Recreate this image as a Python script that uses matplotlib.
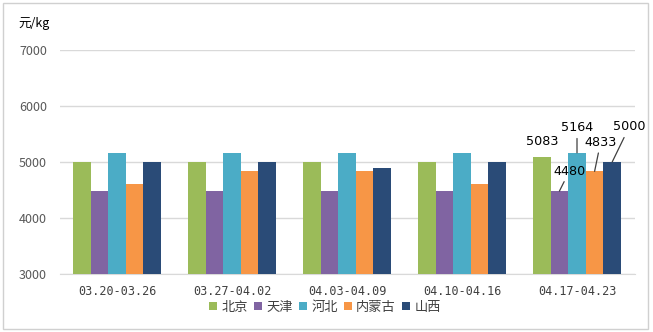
import matplotlib
matplotlib.use("Agg")
import matplotlib.pyplot as plt
from matplotlib.patches import Rectangle
import numpy as np

plt.rcParams['font.family'] = ['Noto Sans CJK SC', 'DejaVu Sans']

periods = ["03.20-03.26", "03.27-04.02", "04.03-04.09", "04.10-04.16", "04.17-04.23"]
regions = ["北京", "天津", "河北", "内蒙古", "山西"]
beijing = [5000, 5000, 5000, 5000, 5083]
tianjin = [4480, 4480, 4480, 4480, 4480]
hebei = [5164, 5164, 5164, 5164, 5164]
neimenggu = [4600, 4833, 4833, 4600, 4833]
shanxi = [5000, 5000, 4900, 5000, 5000]
series = [beijing, tianjin, hebei, neimenggu, shanxi]
colors = ["#9BBB59", "#8064A2", "#4BACC6", "#F79646", "#2A4B77"]

# offsets (pixels) of the value labels on the last period
label_offsets = [(0, 16), (10, 20), (0, 25), (6, 29), (17, 35)]

fig = plt.figure(figsize=(6.53, 3.32), dpi=100)
ax = fig.add_axes([59.5 / 653, 58 / 332, 575 / 653, 224 / 332])

x = np.arange(len(periods))
w = 0.153
for k, (vals, c, name) in enumerate(zip(series, colors, regions)):
    ax.bar(x + (k - 2) * w, np.array(vals) - 3000, width=w, bottom=3000,
           color=c, label=name, zorder=3)

ax.set_xlim(-0.5, len(periods) - 0.5)
ax.set_ylim(3000, 7000)
ax.set_yticks([3000, 4000, 5000, 6000, 7000])
ax.yaxis.grid(True, color="#D9D9D9", linewidth=1, zorder=0)
ax.set_axisbelow(True)
for s in ["top", "right", "left"]:
    ax.spines[s].set_visible(False)
ax.spines["bottom"].set_color("#D9D9D9")
ax.tick_params(axis="y", length=0, pad=9, labelsize=9, labelcolor="#595959")
ax.tick_params(axis="x", length=0, pad=8, labelsize=8.5, labelcolor="#404040")
ax.set_xticks(x)
ax.set_xticklabels(periods, family=["DejaVu Sans Mono"])

# value labels for the latest period
last = len(periods) - 1
for k, vals in enumerate(series):
    bx = x[last] + (k - 2) * w
    v = vals[last]
    dx, dy = label_offsets[k]
    arrow = dict(arrowstyle="-", color="#404040", lw=0.9, shrinkA=1, shrinkB=0) if k > 0 else None
    ax.annotate(str(v), xy=(bx, v), xytext=(dx, dy), textcoords="offset pixels",
                ha="center", va="center", fontsize=9.2, color="#000000",
                family=["DejaVu Sans"], arrowprops=arrow, zorder=5)

fig.text(18 / 653, 1 - 24 / 332, "元/kg", fontsize=9, ha="left", va="center", color="#000000")

leg = fig.legend(loc="center", bbox_to_anchor=(325 / 653, 1 - 307 / 332), ncol=5,
                 frameon=False, fontsize=9.5, handlelength=0.6, handleheight=0.6,
                 handletextpad=0.3, columnspacing=0.5, borderaxespad=0)
for t in leg.get_texts():
    t.set_color("#404040")

fig.patches.append(Rectangle((3 / 653, 3 / 332), 645 / 653, 326 / 332, transform=fig.transFigure,
                             fill=False, edgecolor="#D0D0D0", linewidth=1))

fig.savefig("out.png", dpi=100)
